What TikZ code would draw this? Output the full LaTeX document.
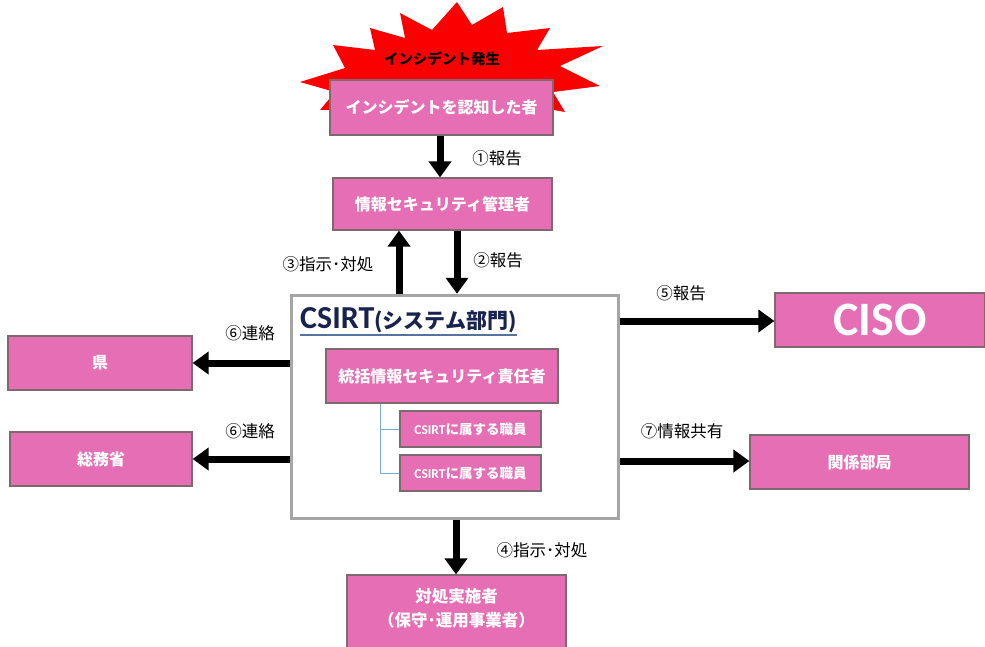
\documentclass[tikz,border=0pt]{standalone}
\usepackage{fontspec}
\setmainfont{Noto Sans CJK JP}
\newfontfamily\lat{Carlito}
\usetikzlibrary{arrows.meta}
\definecolor{pinkbox}{RGB}{230,110,180}
\definecolor{pinkedge}{RGB}{125,105,110}
\definecolor{csirtgray}{RGB}{165,165,165}
\definecolor{navy}{RGB}{25,35,80}
\definecolor{treeblue}{RGB}{120,170,210}
\definecolor{burst}{RGB}{250,0,0}
\tikzset{
  pbox/.style={draw=pinkedge, line width=1.2pt, fill=pinkbox, text=white, font=\bfseries\fontsize{16}{19}\selectfont, align=center, inner sep=0pt},
  bigarrow/.style={line width=7pt, -{Triangle[width=22pt,length=16pt]}},
  lbl/.style={font=\fontsize{16.5}{19}\selectfont, inner sep=0pt},
}
\begin{document}
\begin{tikzpicture}[x=1pt,y=-1pt]
\useasboundingbox (0,0) rectangle (985,646);
\begin{scope}
\clip (0,0) rectangle (985,646);
% starburst
\fill[burst] (300,82) -- (345,68) -- (333,45) -- (375,50) -- (370,28) -- (405,38) -- (400,13) -- (432,30) -- (457,2) -- (472,25) -- (503,7) -- (507,33) -- (550,28) -- (537,50) -- (603,46) -- (560,66) -- (600,86) -- (553,92) -- (565,112) -- (520,104) -- (480,112) -- (400,108) -- (320,110) -- (335,92) -- cycle;
\node[font=\bfseries\fontsize{14.5}{17}\selectfont, inner sep=0pt] (burstlbl) at (442,59) {インシデント発生};

\node[pbox, minimum width=223, minimum height=55] (aware) at (441.5,107.5) {インシデントを認知した者};
\node[pbox, minimum width=219, minimum height=52] (mgr) at (442.5,204) {情報セキュリティ管理者};
\node[draw=csirtgray, line width=3.5pt, fill=white, minimum width=327, minimum height=223, inner sep=0pt] (csirt) at (455,407) {};
\node[anchor=west, text=navy, inner sep=0pt] (title) at (300,320) {{\lat\bfseries\fontsize{32}{34}\selectfont CSIRT}{\bfseries\fontsize{21}{24}\selectfont (システム部門)}};
\draw[treeblue!60!navy, line width=1.5pt] (title.south west) ++(0,2) coordinate (ul1) -- (ul1 -| title.south east);
\node[pbox, minimum width=232, minimum height=54] (chief) at (442,376) {統括情報セキュリティ責任者};
\node[pbox, minimum width=141, minimum height=36, font=\bfseries\fontsize{13.5}{15}\selectfont] (staff1) at (470.5,429) {{\lat CSIRT}に属する職員};
\node[pbox, minimum width=141, minimum height=36, font=\bfseries\fontsize{13.5}{15}\selectfont] (staff2) at (470.5,473) {{\lat CSIRT}に属する職員};
\draw[treeblue, line width=1pt] (chief.south -| 380,0) |- (staff2.west);
\draw[treeblue, line width=1pt] (staff1.west -| 380,0) -- (staff1.west);

\node[pbox, minimum width=184, minimum height=54] (ken) at (100,363) {県};
\node[pbox, minimum width=182, minimum height=54] (soumu) at (101,459) {総務省};
\node[pbox, minimum width=210, minimum height=54, font=\lat\bfseries\fontsize{48}{50}\selectfont] (ciso) at (880,320) {CISO};
\node[pbox, minimum width=219, minimum height=54] (kankei) at (859.5,462) {関係部局};
\node[pbox, minimum width=219, minimum height=74, text depth=0pt] (taisho) at (456.5,612) {};
\node[text=white, font=\bfseries\fontsize{16.5}{24}\selectfont, align=center, inner sep=0pt] (taishotext) at (456.5,608) {対処実施者\\（保守･運用事業者）};

% arrows
\draw[bigarrow] (aware.south -| 440,0) -- (mgr.north -| 440,0);
\node[lbl] (l1) at (497,158) {①報告};
\draw[bigarrow] (csirt.north -| 399,0) -- (mgr.south -| 399,0);
\node[lbl] (l3) at (328,264) {③指示･対処};
\draw[bigarrow] (mgr.south -| 457,0) -- (csirt.north -| 457,0);
\node[lbl] (l2) at (498,260) {②報告};
\draw[bigarrow] (csirt.east |- 0,321) -- (ciso.west |- 0,321);
\node[lbl] (l5) at (681,293) {⑤報告};
\draw[bigarrow] (csirt.east |- 0,461) -- (kankei.west |- 0,461);
\node[lbl] (l7) at (682,431) {⑦情報共有};
\draw[bigarrow] (csirt.west |- 0,363) -- (ken.east |- 0,363);
\node[lbl] (l6a) at (250,333) {⑥連絡};
\draw[bigarrow] (csirt.west |- 0,459) -- (soumu.east |- 0,459);
\node[lbl] (l6b) at (250,431) {⑥連絡};
\draw[bigarrow] (csirt.south -| 456,0) -- (taisho.north -| 456,0);
\node[lbl] (l4) at (542,550) {④指示･対処};
\end{scope}
\end{tikzpicture}
\end{document}
